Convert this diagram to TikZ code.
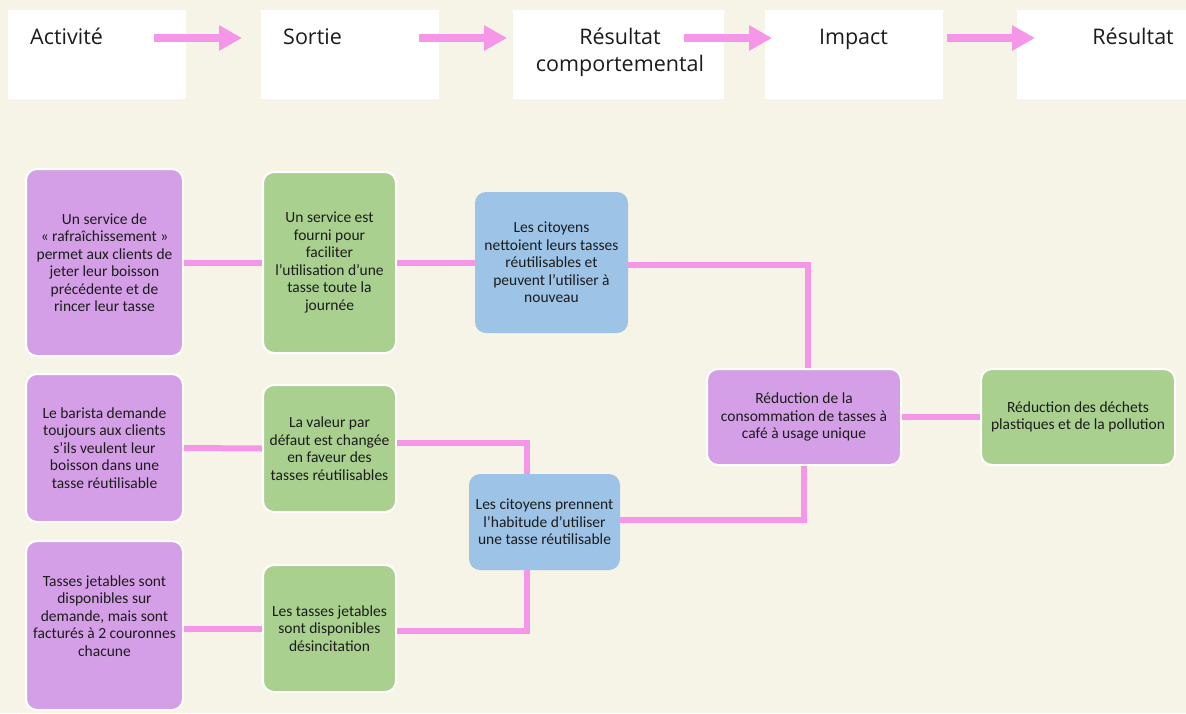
\documentclass[tikz,border=0pt]{standalone}
\usepackage{fontspec}
\usepackage{xcolor}
\usepackage{tikz}
\usetikzlibrary{positioning, arrows.meta, calc}
\newfontfamily\hdrfont{Open Sans}
\newfontfamily\boxfont{Carlito}
\definecolor{creambg}{HTML}{F6F4E7}
\definecolor{linkpink}{HTML}{F596E8}
\definecolor{actpurple}{HTML}{D49FE6}
\definecolor{outgreen}{HTML}{A9D08E}
\definecolor{behblue}{HTML}{9DC3E6}
\definecolor{txtdark}{HTML}{1C1C1C}

\begin{document}
\begin{tikzpicture}[x=1pt, y=-1pt,
    hdrbox/.style={fill=white, draw=none, minimum height=89pt, inner sep=0pt},
    hdrtext/.style={font=\hdrfont\fontsize{21.5}{27}\selectfont, text=txtdark, inner sep=0pt, align=center},
    hdrarrow/.style={linkpink, line width=8pt, -{Triangle[length=23pt, width=24pt]}},
    card/.style={rounded corners=11pt, align=center, inner sep=2pt, text=txtdark,
        font=\boxfont\fontsize{15.5}{17.5}\selectfont},
    actbox/.style={card, fill=actpurple, draw=white, line width=2pt},
    outbox/.style={card, fill=outgreen, draw=white, line width=2pt},
    behbox/.style={card, fill=behblue, draw=none},
    link/.style={linkpink, line width=6pt}]

    % Background
    \fill[creambg] (0,0) rectangle (1186,713);
    \useasboundingbox (0,0) rectangle (1186,713);

    % Header boxes
    \node[hdrbox, minimum width=178pt] (hact) at (97,54.5) {};
    \node[hdrbox, minimum width=178pt] (hout) at (350,54.5) {};
    \node[hdrbox, minimum width=211pt] (hbeh) at (618.5,54.5) {};
    \node[hdrbox, minimum width=178pt] (himp) at (854,54.5) {};
    \node[hdrbox, minimum width=169pt] (hres) at (1101.5,54.5) {};

    % Header labels
    \node[hdrtext, anchor=base west] (lact) at (30,44) {Activité};
    \node[hdrtext, anchor=base west] (lout) at (283,44) {Sortie};
    \node[hdrtext] (lbeh) at (620,52) {Résultat\\comportemental};
    \node[hdrtext, anchor=base] (limp) at (853.5,44) {Impact};
    \node[hdrtext, anchor=base east] (lres) at (1174,44) {Résultat};

    % Header arrows
    \foreach \s/\e [count=\i] in {154/242, 419/507, 684/772, 947/1035} {
        \coordinate (as\i) at (\s,38);
        \coordinate (ae\i) at (\e,38);
        \draw[hdrarrow] (as\i) -- (ae\i);
    }

    % Activities
    \node[actbox, minimum width=157pt, minimum height=187pt] (act1) at (104.5,262.5)
        {Un service de\\« rafraîchissement »\\permet aux clients de\\jeter leur boisson\\précédente et de\\rincer leur tasse};
    \node[actbox, minimum width=157pt, minimum height=148pt] (act2) at (104.5,448)
        {Le barista demande\\toujours aux clients\\s’ils veulent leur\\boisson dans une\\tasse réutilisable};
    \node[actbox, minimum width=157pt, minimum height=169pt] (act3) at (104.5,625.5) {};
    \node[card, fill=none] (act3t) at (104.5,616)
        {Tasses jetables sont\\disponibles sur\\demande, mais sont\\facturés à 2 couronnes\\chacune};

    % Outputs
    \node[outbox, minimum width=133pt, minimum height=181pt] (out1) at (329.5,262.5)
        {Un service est\\fourni pour\\faciliter\\l’utilisation d’une\\tasse toute la\\journée};
    \node[outbox, minimum width=133pt, minimum height=127pt] (out2) at (329.5,448.5)
        {La valeur par\\défaut est changée\\en faveur des\\tasses réutilisables};
    \node[outbox, minimum width=133pt, minimum height=127pt] (out3) at (329.5,628.5)
        {Les tasses jetables\\sont disponibles\\désincitation};

    % Behavioural outcomes
    \node[behbox, minimum width=153pt, minimum height=141pt] (beh1) at (551.5,262.5)
        {Les citoyens\\nettoient leurs tasses\\réutilisables et\\peuvent l’utiliser à\\nouveau};
    \node[behbox, minimum width=151pt, minimum height=96pt] (beh2) at (544.5,522)
        {Les citoyens prennent\\l’habitude d’utiliser\\une tasse réutilisable};

    % Impact and result
    \node[actbox, minimum width=194pt, minimum height=96pt] (imp) at (804,417)
        {Réduction de la\\consommation de tasses à\\café à usage unique};
    \node[outbox, minimum width=194pt, minimum height=96pt] (res) at (1078,417)
        {Réduction des déchets\\plastiques et de la pollution};

    % Links
    \draw[link] (act1.east) -- (out1.west);
    \draw[link] (out1.east) -- (beh1.west);
    \draw[link] ([yshift=-2pt]beh1.east) -| ([xshift=4pt]imp.north);
    \draw[link] (act2.east) -- (out2.west);
    \draw[link] ([yshift=6pt]out2.east) -| ([xshift=-17.5pt]beh2.north);
    \draw[link] (out3.west -| act3.east) -- (out3.west);
    \draw[link] ([yshift=-2.5pt]out3.east) -| ([xshift=-17.5pt]beh2.south);
    \draw[link] ([yshift=2pt]beh2.east) -| (imp.south);
    \draw[link] (imp.east) -- (res.west);
\end{tikzpicture}
\end{document}
